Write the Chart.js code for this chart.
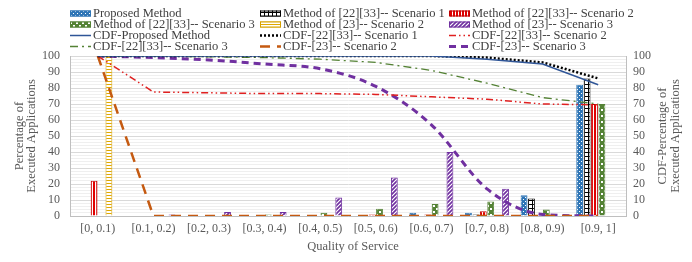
<!DOCTYPE html>
<html><head><meta charset="utf-8">
<script src="https://cdn.jsdelivr.net/npm/chart.js@4.4.1/dist/chart.umd.min.js"></script>
<style>html,body{margin:0;padding:0;background:#fff}#wrap{width:692px;height:262px;position:relative}</style>
</head><body><div id="wrap"><canvas id="c" width="692" height="262"></canvas></div>
<script>
const categories = ['[0, 0.1)','[0.1, 0.2)','[0.2, 0.3)','[0.3, 0.4)','[0.4, 0.5)','[0.5, 0.6)','[0.6, 0.7)','[0.7, 0.8)','[0.8, 0.9)','[0.9, 1]'];
const proposed   = [0,0,0,0,0,0,2,2,13,82];
const s1_2233    = [0,0,0,0,0,0,0,1,11,86];
const s2_2233    = [22,0,0.3,0.5,0,1,1,3,0,70];
const s3_2233    = [0,0,0.5,1,2,4.5,7.5,9,4,70];
const s2_23      = [100,0,0,0,0,0,0,0,0,0];
const s3_23      = [0,1,2.5,2.5,11.5,24,40,17,0,0];
const cdfProposed = [100,100,100,100,100,100,100,98,95,82];
const cdfS1_2233  = [100,100,100,100,100,100,100,99,96,86];
const cdfS2_2233  = [100,77.5,77,76.5,76.5,76,74.5,73,70,69.5];
const cdfS3_2233  = [100,100,99.5,99,98,96,91,83,74,70];
const cdfS2_23    = [100,0,0,0,0,0,0,0,0,0];
const cdfS3_23    = [100,99,97.5,95,92,81,57,17,1,0];
const yTicks = [0,10,20,30,40,50,60,70,80,90,100];

const FONT = '"Liberation Serif", "Times New Roman", serif';

function pat(w,h,draw){
  const c=document.createElement('canvas');c.width=w;c.height=h;
  const x=c.getContext('2d');draw(x);
  return document.getElementById('c').getContext('2d').createPattern(c,'repeat');
}
const pBlue = pat(4,4,x=>{x.fillStyle='#2e75b6';x.fillRect(0,0,4,4);x.fillStyle='#ffffff';x.fillRect(1,1,1,1);x.fillRect(3,3,1,1);});
const pBlack = pat(4,4,x=>{x.fillStyle='#ffffff';x.fillRect(0,0,4,4);x.fillStyle='#000000';x.fillRect(0,0,1,4);x.fillRect(0,0,4,1);});
const pRed = pat(3,3,x=>{x.fillStyle='#e00000';x.fillRect(0,0,3,3);x.fillStyle='#ffffff';x.fillRect(2,0,1,3);});
const pGreen = pat(6,6,x=>{x.fillStyle='#548235';x.fillRect(0,0,6,6);x.fillStyle='#ffffff';x.fillRect(1,1,2,2);x.fillRect(4,4,2,2);});
const pYellow = pat(3,3,x=>{x.fillStyle='#ffffff';x.fillRect(0,0,3,3);x.fillStyle='#e0a800';x.fillRect(0,0,3,1);});
const pPurple = pat(4,4,x=>{x.fillStyle='#7030a0';x.fillRect(0,0,4,4);x.strokeStyle='#ffffff';x.lineWidth=1.2;x.beginPath();x.moveTo(-1,5);x.lineTo(5,-1);x.moveTo(-1,1);x.lineTo(1,-1);x.moveTo(3,5);x.lineTo(5,3);x.stroke();});

function bar(label,data,bg,border){
  return {type:'bar',label,data,backgroundColor:bg,borderColor:border,borderWidth:1,yAxisID:'y',order:1,
    barPercentage:0.92,categoryPercentage:0.8};
}
function line(label,data,color,width,dash,extra){
  return Object.assign({type:'line',label,data,borderColor:color,backgroundColor:color,borderWidth:width,borderDash:dash,
    pointRadius:0,fill:false,tension:0,yAxisID:'y1',order:0,borderCapStyle:'butt'},extra||{});
}

const datasets = [
  bar('Proposed Method',proposed,pBlue,'#2e75b6'),
  bar('Method of [22][33]-- Scenario 1',s1_2233,pBlack,'#000000'),
  bar('Method of [22][33]-- Scenario 2',s2_2233,pRed,'#c00000'),
  bar('Method of [22][33]-- Scenario 3',s3_2233,pGreen,'#548235'),
  bar('Method of [23]-- Scenario 2',s2_23,pYellow,'#d4a000'),
  bar('Method of [23]-- Scenario 3',s3_23,pPurple,'#7030a0'),
  line('CDF-Proposed Method',cdfProposed,'#2f5597',1.5,[]),
  line('CDF-[22][33]-- Scenario 1',cdfS1_2233,'#000000',2.5,[2,2]),
  line('CDF-[22][33]-- Scenario 2',cdfS2_2233,'#e02020',1.5,[7,3,1.5,3,1.5,3]),
  line('CDF-[22][33]-- Scenario 3',cdfS3_2233,'#548235',1.3,[8,4,2,4]),
  line('CDF-[23]-- Scenario 2',cdfS2_23,'#c55a11',2.5,[10,7]),
  line('CDF-[23]-- Scenario 3',cdfS3_23,'#7030a0',3,[7,5],{cubicInterpolationMode:'monotone'})
];

const decor = {
  id:'decor',
  afterDraw(chart){
    const ctx=chart.ctx;
    ctx.save();
    // legend
    const colX=[70,260,449], rowY=[13.5,24.5,35.5,46.5];
    ctx.font='12.5px '+FONT; ctx.textBaseline='middle'; ctx.textAlign='left';
    chart.data.datasets.forEach((ds,i)=>{
      const r=Math.floor(i/3), c=i%3;
      const x=colX[c], y=rowY[r];
      if(ds.type==='bar'){
        ctx.fillStyle=ds.backgroundColor; ctx.fillRect(x,y-3,21,6);
        ctx.strokeStyle=ds.borderColor; ctx.lineWidth=1; ctx.setLineDash([]); ctx.strokeRect(x+0.5,y-2.5,20,5);
      } else {
        ctx.strokeStyle=ds.borderColor; ctx.lineWidth=Math.max(ds.borderWidth,1.5); ctx.setLineDash(ds.borderDash||[]);
        ctx.beginPath(); ctx.moveTo(x,y); ctx.lineTo(x+21,y); ctx.stroke(); ctx.setLineDash([]);
      }
      ctx.fillStyle='#404040'; ctx.fillText(ds.label,x+23,y);
    });
    // axis titles
    ctx.fillStyle='#595959'; ctx.font='12.5px '+FONT; ctx.textAlign='center';
    const ca=chart.chartArea, cy=(ca.top+ca.bottom)/2;
    [[20,'Percentage of'],[32,'Executed Applications'],[663,'CDF-Percentage of'],[676,'Executed Applications']].forEach(([x,t])=>{
      ctx.save(); ctx.translate(x,cy); ctx.rotate(-Math.PI/2); ctx.fillText(t,0,0); ctx.restore();
    });
    ctx.fillText('Quality of Service',353,247);
    ctx.restore();
  }
};

new Chart(document.getElementById('c'),{
  data:{labels:categories,datasets},
  options:{
    responsive:false,animation:false,devicePixelRatio:1,
    layout:{padding:{top:56,left:0,right:0,bottom:0}},
    plugins:{legend:{display:false},tooltip:{enabled:false}},
    scales:{
      x:{grid:{display:false,drawTicks:false},border:{display:true,color:'#bfbfbf',width:1},
        ticks:{font:{family:FONT,size:12},color:'#595959',padding:6,maxRotation:0,autoSkip:false},
        afterFit(s){s.height=46;}},
      y:{position:'left',min:0,max:100,
        afterBuildTicks(s){const t=[];for(let v=0;v<=100;v+=2)t.push({value:v});s.ticks=t;},
        ticks:{autoSkip:false,font:{family:FONT,size:12},color:'#595959',padding:10,
          callback:v=>yTicks.includes(v)?String(v):''},
        grid:{drawTicks:false,color:c=>(c.tick&&c.tick.value%10===0)?'#d9d9d9':'#efefef',lineWidth:1},
        border:{display:true,color:'#bfbfbf'},
        afterFit(s){s.width=70;}},
      y1:{position:'right',min:0,max:100,
        afterBuildTicks(s){s.ticks=yTicks.map(v=>({value:v}));},
        ticks:{autoSkip:false,font:{family:FONT,size:12},color:'#595959',padding:7},
        grid:{drawOnChartArea:false,drawTicks:false},
        border:{display:true,color:'#bfbfbf'},
        afterFit(s){s.width=66;}}
    }
  },
  plugins:[decor]
});
</script></body></html>
